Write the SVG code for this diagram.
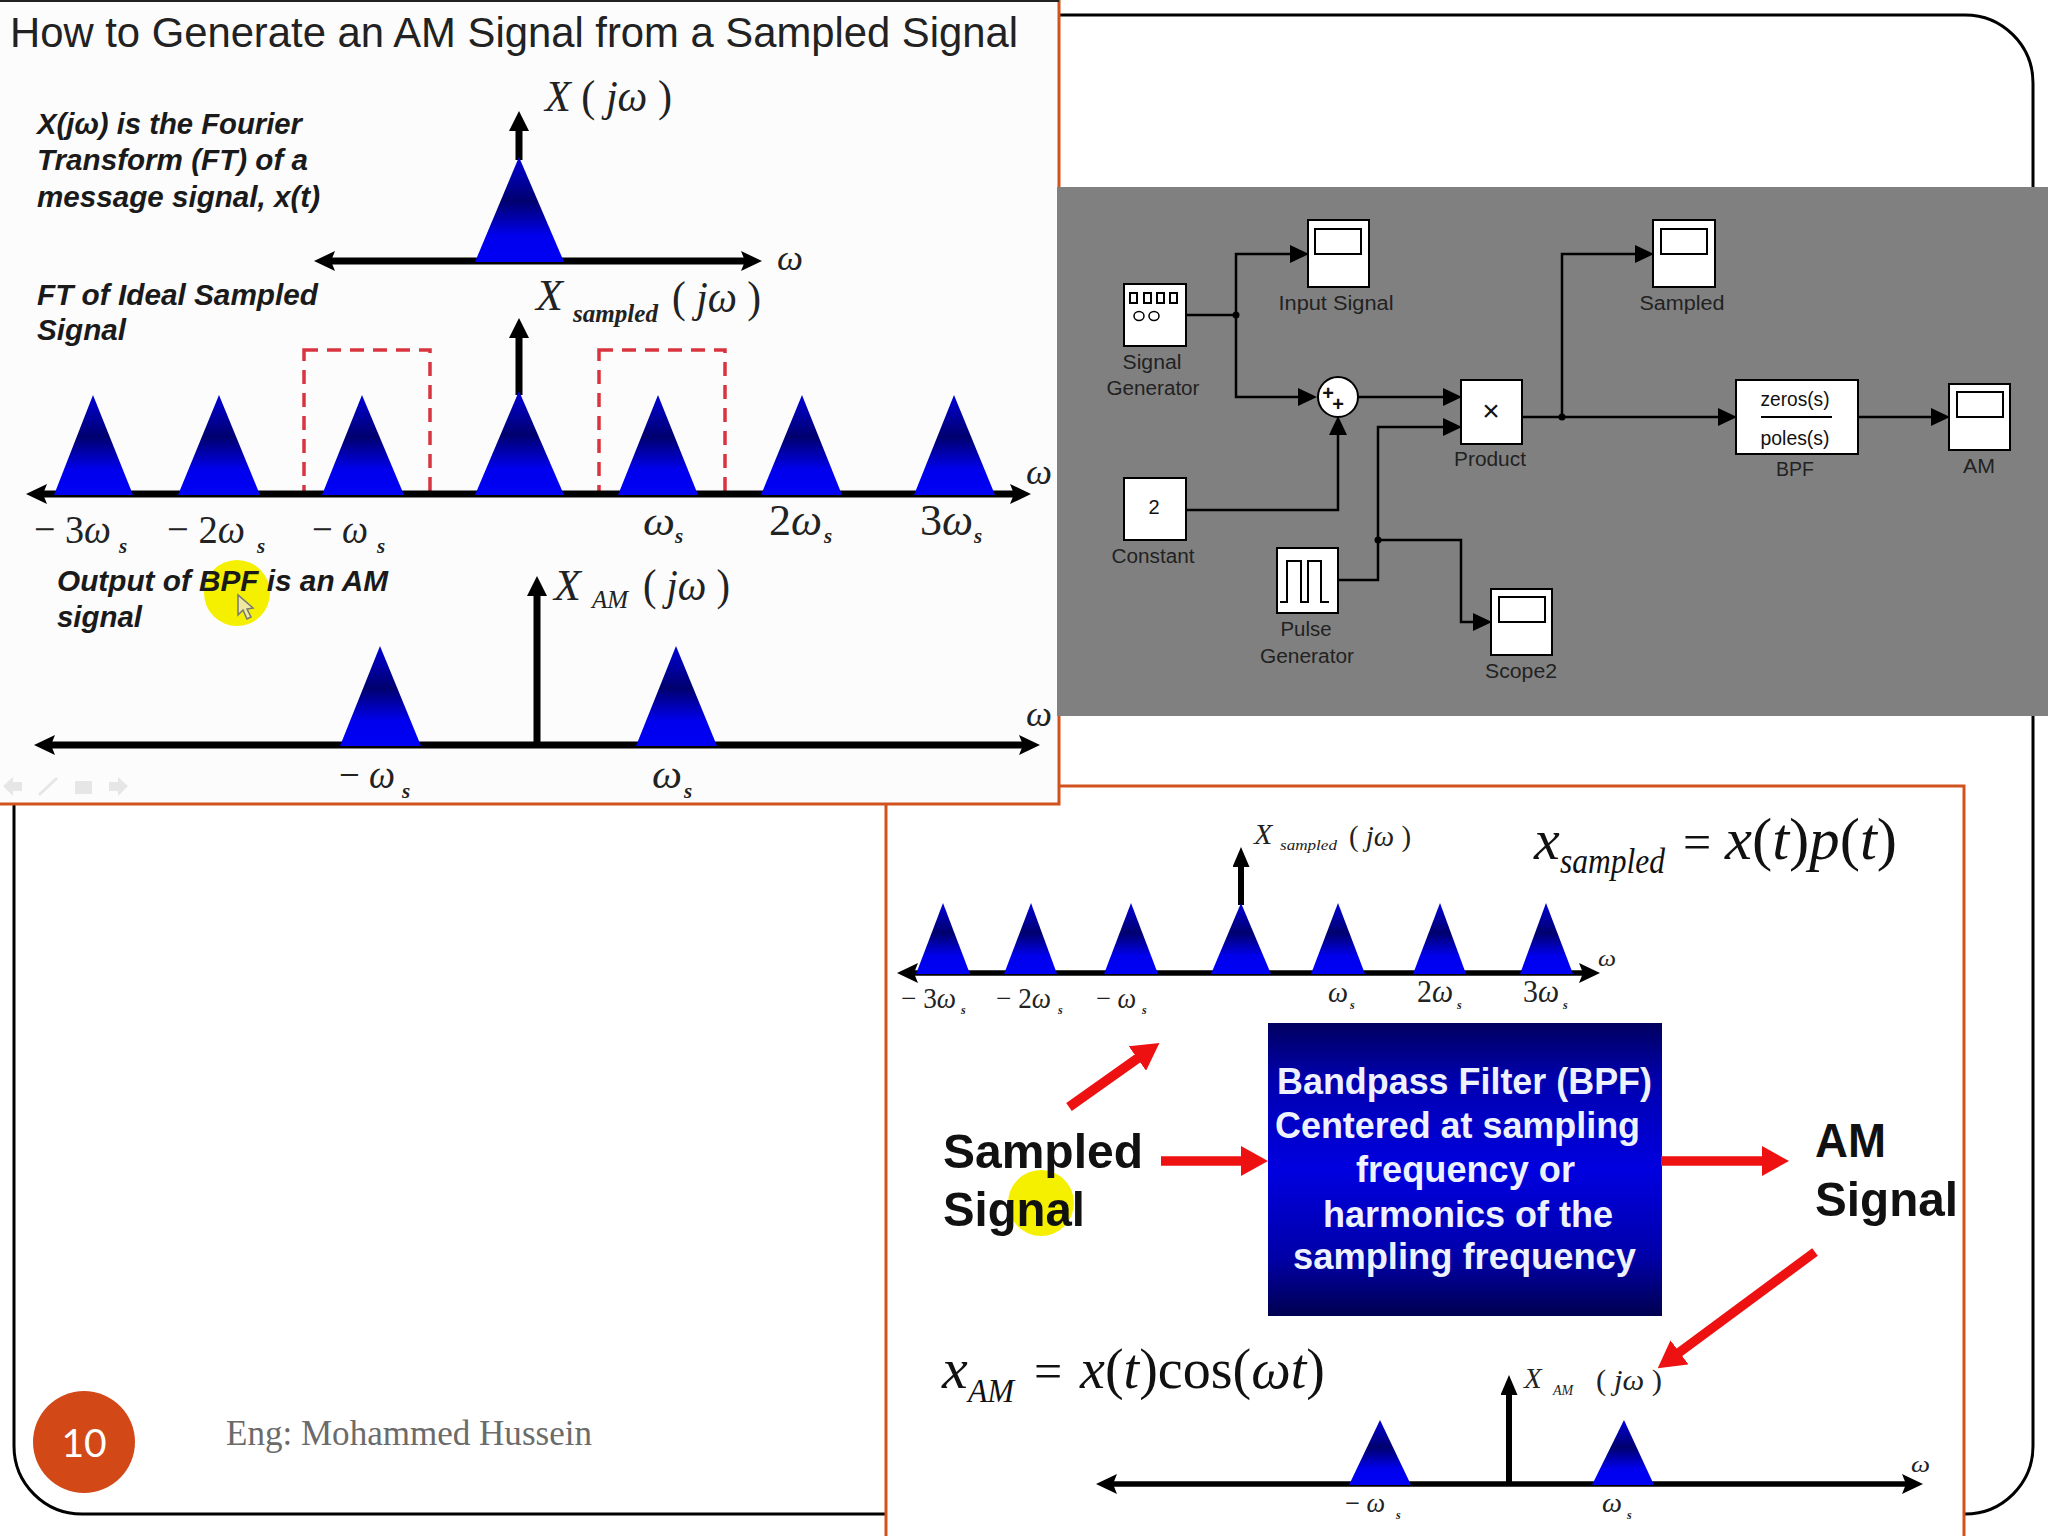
<svg xmlns="http://www.w3.org/2000/svg" width="2048" height="1536" viewBox="0 0 2048 1536">
<style>
text{font-family:"Liberation Sans",Arial,sans-serif;fill:#111}
.m{font-family:"Liberation Serif","Times New Roman",serif;fill:#222}
.i{font-style:italic}
.s{font-family:"Liberation Serif","Times New Roman",serif;font-style:italic;font-weight:bold;fill:#222}
.bi{font-weight:bold;font-style:italic;font-size:30px;fill:#1a1a1a}
.ax{stroke:#000;stroke-width:7;fill:none;marker-start:url(#ah);marker-end:url(#ah)}
.ax3{stroke:#000;stroke-width:5.500;fill:none;marker-start:url(#ah);marker-end:url(#ah)}
.v{stroke:#000;stroke-width:7;fill:none;marker-end:url(#av)}
.v3{stroke:#000;stroke-width:6;fill:none;marker-end:url(#avs)}
.tri{fill:url(#tg)}
.dash{fill:none;stroke:#d8343f;stroke-width:3.5;stroke-dasharray:14 9}
.red{stroke:#ee1111;stroke-width:9.500;fill:none;marker-end:url(#ar)}
.blk{fill:#fff;stroke:#000;stroke-width:2}
.scr{fill:none;stroke:#000;stroke-width:2}
.w{fill:none;stroke:#000;stroke-width:2.5}
.wa{fill:none;stroke:#000;stroke-width:2.5;marker-end:url(#as)}
.lb{font-size:20px;fill:#222;text-anchor:middle}
.bw{font-weight:bold;font-size:36px;fill:#eef2ff}
.bk{font-weight:bold;font-size:49px;fill:#111}
.tb{fill:#e6e6e6}
</style>
<defs>
<linearGradient id="tg" x1="0" y1="0" x2="0" y2="1"><stop offset="0" stop-color="#0000d8"/><stop offset=".42" stop-color="#00006e"/><stop offset=".75" stop-color="#0000ee"/><stop offset="1" stop-color="#0000f4"/></linearGradient>
<linearGradient id="bg" x1="0" y1="0" x2="0" y2="1"><stop offset="0" stop-color="#000060"/><stop offset=".2" stop-color="#0000b0"/><stop offset=".5" stop-color="#0000e0"/><stop offset=".8" stop-color="#0000a8"/><stop offset="1" stop-color="#000050"/></linearGradient>
<marker id="ah" markerUnits="userSpaceOnUse" markerWidth="22" markerHeight="20" viewBox="0 0 22 20" refX="10" refY="10" orient="auto-start-reverse"><path d="M0 0L21 10L0 20L4 10Z" fill="#000"/></marker>
<marker id="av" markerUnits="userSpaceOnUse" markerWidth="20" markerHeight="20" viewBox="0 0 20 20" refX="10" refY="10" orient="auto"><path d="M0 0L20 10L0 20Z" fill="#000"/></marker>
<marker id="avs" markerUnits="userSpaceOnUse" markerWidth="20" markerHeight="17" viewBox="0 0 20 17" refX="10" refY="8.5" orient="auto"><path d="M0 0L20 8.500L0 17Z" fill="#000"/></marker>
<marker id="ar" markerUnits="userSpaceOnUse" markerWidth="27" markerHeight="30" viewBox="0 0 27 30" refX="13" refY="15" orient="auto"><path d="M0 0L27 15L0 30Z" fill="#ee1111"/></marker>
<marker id="as" markerUnits="userSpaceOnUse" markerWidth="19" markerHeight="18" viewBox="0 0 19 18" refX="9" refY="9" orient="auto"><path d="M0 0L19 9L0 18Z" fill="#000"/></marker>
</defs>
<rect width="2048" height="1536" fill="#fff"/>
<g id="slide-frame">
<rect x="14" y="15" width="2019" height="1499" rx="68" ry="68" fill="#fff" stroke="#000" stroke-width="3"/>
</g>
<g id="page-number">
<circle cx="84" cy="1442" r="51" fill="#d34817"/>
<text x="84" y="1457" text-anchor="middle" style="font-family:Lato,sans-serif;fill:#fff;font-size:39px">10</text>
</g>
<g id="footer"><text x="226" y="1445" class="m" font-size="35" textLength="366" lengthAdjust="spacingAndGlyphs" style="fill:#6b6b6b">Eng: Mohammed Hussein</text></g>

<g id="panel-bpf">
<rect x="886" y="786" width="1078" height="760" fill="#fff" stroke="#d2521f" stroke-width="3"/>
<g id="sampled-spectrum">
<line class="v3" x1="1241" y1="905" x2="1241" y2="857"/>
<line class="ax3" x1="908" y1="973" x2="1589" y2="973"/>
<polygon class="tri" points="916,974 943,903 970,974"/>
<polygon class="tri" points="1004,974 1031,903 1057,974"/>
<polygon class="tri" points="1104,974 1131,903 1158,974"/>
<polygon class="tri" points="1211,974 1241,903 1271,974"/>
<polygon class="tri" points="1311,974 1338,903 1365,974"/>
<polygon class="tri" points="1413,974 1440,903 1466,974"/>
<polygon class="tri" points="1520,974 1546,903 1573,974"/>
<text class="m i" x="1254" y="844" font-size="30">X</text>
<text class="m i" x="1280" y="850" font-size="14" textLength="57" lengthAdjust="spacingAndGlyphs">sampled</text>
<text class="m" x="1349" y="846" font-size="29" textLength="62" lengthAdjust="spacingAndGlyphs">( <tspan class="i">jω</tspan> )</text>
<text class="m i" x="1598" y="966" font-size="24" textLength="18" lengthAdjust="spacingAndGlyphs">ω</text>
<text class="m" x="901" y="1008" font-size="29" textLength="55" lengthAdjust="spacingAndGlyphs">− 3<tspan class="i">ω</tspan></text><text class="s" x="961" y="1014" font-size="12">s</text>
<text class="m" x="996" y="1008" font-size="29" textLength="55" lengthAdjust="spacingAndGlyphs">− 2<tspan class="i">ω</tspan></text><text class="s" x="1058" y="1014" font-size="12">s</text>
<text class="m" x="1096" y="1008" font-size="29" textLength="40" lengthAdjust="spacingAndGlyphs">− <tspan class="i">ω</tspan></text><text class="s" x="1142" y="1014" font-size="12">s</text>
<text class="m i" x="1328" y="1002" font-size="29" textLength="20" lengthAdjust="spacingAndGlyphs">ω</text><text class="s" x="1350" y="1009" font-size="12">s</text>
<text class="m" x="1417" y="1002" font-size="31" textLength="36" lengthAdjust="spacingAndGlyphs">2<tspan class="i">ω</tspan></text><text class="s" x="1457" y="1009" font-size="12">s</text>
<text class="m" x="1523" y="1002" font-size="31" textLength="36" lengthAdjust="spacingAndGlyphs">3<tspan class="i">ω</tspan></text><text class="s" x="1563" y="1009" font-size="12">s</text>
</g>
<g id="sampled-formula">
<text class="m i" x="1534" y="859" font-size="58" style="fill:#111">x</text>
<text class="m i" x="1560" y="873" font-size="35" textLength="105" lengthAdjust="spacingAndGlyphs" style="fill:#111">sampled</text>
<text class="m" x="1683" y="859" font-size="50" style="fill:#111">=</text>
<text class="m" x="1725" y="859" font-size="60" textLength="172" lengthAdjust="spacingAndGlyphs" style="fill:#111"><tspan class="i">x</tspan>(<tspan class="i">t</tspan>)<tspan class="i">p</tspan>(<tspan class="i">t</tspan>)</text>
</g>
<g id="bpf-box">
<rect x="1268" y="1023" width="394" height="293" fill="url(#bg)"/>
<text class="bw" x="1277" y="1094" textLength="375" lengthAdjust="spacingAndGlyphs">Bandpass Filter (BPF)</text>
<text class="bw" x="1275" y="1138" textLength="365" lengthAdjust="spacingAndGlyphs">Centered at sampling</text>
<text class="bw" x="1356" y="1182" textLength="219" lengthAdjust="spacingAndGlyphs">frequency or</text>
<text class="bw" x="1323" y="1227" textLength="290" lengthAdjust="spacingAndGlyphs">harmonics of the</text>
<text class="bw" x="1293" y="1269" textLength="343" lengthAdjust="spacingAndGlyphs">sampling frequency</text>
</g>
<g id="sampled-signal-label">
<circle cx="1041" cy="1203" r="33" fill="#f4f000"/>
<text class="bk" x="943" y="1168" textLength="200" lengthAdjust="spacingAndGlyphs">Sampled</text>
<text class="bk" x="943" y="1226" textLength="142" lengthAdjust="spacingAndGlyphs">Signal</text>
</g>
<g id="am-signal-label">
<text class="bk" x="1815" y="1157" textLength="71" lengthAdjust="spacingAndGlyphs">AM</text>
<text class="bk" x="1815" y="1216" textLength="143" lengthAdjust="spacingAndGlyphs">Signal</text>
</g>
<g id="am-formula">
<text class="m i" x="942" y="1388" font-size="58" style="fill:#111">x</text>
<text class="m i" x="968" y="1402" font-size="34" textLength="46" lengthAdjust="spacingAndGlyphs" style="fill:#111">AM</text>
<text class="m" x="1034" y="1388" font-size="50" style="fill:#111">=</text>
<text class="m" x="1080" y="1388" font-size="58" textLength="245" lengthAdjust="spacingAndGlyphs" style="fill:#111"><tspan class="i">x</tspan>(<tspan class="i">t</tspan>)cos(<tspan class="i">ωt</tspan>)</text>
</g>
<g id="am-spectrum">
<line class="v3" x1="1509" y1="1484" x2="1509" y2="1385"/>
<line class="ax3" x1="1107" y1="1484" x2="1912" y2="1484"/>
<polygon class="tri" points="1349,1485 1380,1420 1411,1485"/>
<polygon class="tri" points="1592,1485 1624,1420 1654,1485"/>
<text class="m i" x="1524" y="1388" font-size="29">X</text>
<text class="m i" x="1553" y="1395" font-size="14">AM</text>
<text class="m" x="1596" y="1390" font-size="29" textLength="66" lengthAdjust="spacingAndGlyphs">( <tspan class="i">jω</tspan> )</text>
<text class="m i" x="1911" y="1472" font-size="24" textLength="19" lengthAdjust="spacingAndGlyphs">ω</text>
<text class="m" x="1345" y="1512" font-size="27" textLength="40" lengthAdjust="spacingAndGlyphs">− <tspan class="i">ω</tspan></text><text class="s" x="1396" y="1519" font-size="12">s</text>
<text class="m i" x="1602" y="1512" font-size="27" textLength="20" lengthAdjust="spacingAndGlyphs">ω</text><text class="s" x="1627" y="1519" font-size="12">s</text>
</g>
<g id="red-arrows">
<line class="red" x1="1069" y1="1107" x2="1148" y2="1051"/>
<line class="red" x1="1161" y1="1161" x2="1254" y2="1161"/>
<line class="red" x1="1661" y1="1161" x2="1775" y2="1161"/>
<line class="red" x1="1815" y1="1252" x2="1669" y2="1360"/>
</g>
</g>

<g id="panel-spectra">
<rect x="-3" y="0" width="1062" height="804" fill="#fcfcfc" stroke="#d2521f" stroke-width="3"/>
<line x1="0" y1="1" x2="1059" y2="1" stroke="#222" stroke-width="2"/>
<text x="10" y="47" font-size="42" textLength="1008" lengthAdjust="spacingAndGlyphs" style="fill:#222">How to Generate an AM Signal from a Sampled Signal</text>
<g id="message-spectrum">
<line class="v" x1="519" y1="160" x2="519" y2="121"/>
<line class="ax" x1="325" y1="261" x2="751" y2="261"/>
<polygon class="tri" points="475,262 519,157 564,262"/>
<text class="m" x="545" y="111" font-size="44" textLength="127" lengthAdjust="spacingAndGlyphs"><tspan class="i">X</tspan> ( <tspan class="i">jω</tspan> )</text>
<text class="m i" x="777" y="270" font-size="36" textLength="26" lengthAdjust="spacingAndGlyphs">ω</text>
<text class="bi" x="37" y="134" textLength="265" lengthAdjust="spacingAndGlyphs">X(jω) is the Fourier</text>
<text class="bi" x="37" y="170" textLength="271" lengthAdjust="spacingAndGlyphs">Transform (FT) of a</text>
<text class="bi" x="37" y="207" textLength="283" lengthAdjust="spacingAndGlyphs">message signal, x(t)</text>
</g>
<g id="ideal-sampled-spectrum">
<rect class="dash" x="304" y="350" width="126" height="144"/>
<rect class="dash" x="599" y="350" width="126" height="144"/>
<line class="v" x1="519" y1="395" x2="519" y2="328"/>
<line class="ax" x1="37" y1="494" x2="1020" y2="494"/>
<polygon class="tri" points="54,495 93,395 133,495"/>
<polygon class="tri" points="178,495 219,395 260,495"/>
<polygon class="tri" points="322,495 362,395 404,495"/>
<polygon class="tri" points="475,495 519,391 564,495"/>
<polygon class="tri" points="618,495 658,395 698,495"/>
<polygon class="tri" points="761,495 802,395 842,495"/>
<polygon class="tri" points="914,495 954,395 995,495"/>
<text class="m i" x="536" y="310" font-size="44">X</text>
<text class="m i" x="573" y="322" font-size="25" font-weight="bold" textLength="85" lengthAdjust="spacingAndGlyphs">sampled</text>
<text class="m" x="672" y="312" font-size="44" textLength="89" lengthAdjust="spacingAndGlyphs">( <tspan class="i">jω</tspan> )</text>
<text class="m i" x="1026" y="484" font-size="36" textLength="26" lengthAdjust="spacingAndGlyphs">ω</text>
<text class="bi" x="37" y="305" textLength="281" lengthAdjust="spacingAndGlyphs">FT of Ideal Sampled</text>
<text class="bi" x="37" y="340" textLength="89" lengthAdjust="spacingAndGlyphs">Signal</text>
<text class="m" x="34" y="543" font-size="41" textLength="77" lengthAdjust="spacingAndGlyphs">− 3<tspan class="i">ω</tspan></text><text class="s" x="119" y="553" font-size="21">s</text>
<text class="m" x="167" y="543" font-size="41" textLength="78" lengthAdjust="spacingAndGlyphs">− 2<tspan class="i">ω</tspan></text><text class="s" x="257" y="553" font-size="21">s</text>
<text class="m" x="312" y="543" font-size="41" textLength="56" lengthAdjust="spacingAndGlyphs">− <tspan class="i">ω</tspan></text><text class="s" x="377" y="553" font-size="21">s</text>
<text class="m i" x="643" y="535" font-size="41" textLength="32" lengthAdjust="spacingAndGlyphs">ω</text><text class="s" x="675" y="543" font-size="21">s</text>
<text class="m" x="769" y="535" font-size="45" textLength="53" lengthAdjust="spacingAndGlyphs">2<tspan class="i">ω</tspan></text><text class="s" x="824" y="543" font-size="21">s</text>
<text class="m" x="920" y="535" font-size="45" textLength="53" lengthAdjust="spacingAndGlyphs">3<tspan class="i">ω</tspan></text><text class="s" x="974" y="543" font-size="21">s</text>
</g>
<g id="am-output-spectrum">
<circle cx="237" cy="593" r="33" fill="#f4f000"/>
<text class="bi" x="57" y="591" textLength="331" lengthAdjust="spacingAndGlyphs">Output of BPF is an AM</text>
<text class="bi" x="57" y="627" textLength="85" lengthAdjust="spacingAndGlyphs">signal</text>
<path d="M238 595L238 615L243 610L247 619L251 617L247 609L253 608Z" fill="#eee8a0" stroke="#777" stroke-width="1.500"/>
<line class="v" x1="537" y1="745" x2="537" y2="586"/>
<line class="ax" x1="45" y1="745" x2="1029" y2="745"/>
<polygon class="tri" points="340,746 380,646 421,746"/>
<polygon class="tri" points="636,746 676,646 717,746"/>
<text class="m i" x="554" y="600" font-size="44">X</text>
<text class="m i" x="592" y="608" font-size="25" textLength="36" lengthAdjust="spacingAndGlyphs">AM</text>
<text class="m" x="643" y="600" font-size="44" textLength="87" lengthAdjust="spacingAndGlyphs">( <tspan class="i">jω</tspan> )</text>
<text class="m i" x="1026" y="726" font-size="36" textLength="26" lengthAdjust="spacingAndGlyphs">ω</text>
<text class="m" x="339" y="788" font-size="39" textLength="56" lengthAdjust="spacingAndGlyphs">− <tspan class="i">ω</tspan></text><text class="s" x="402" y="798" font-size="21">s</text>
<text class="m i" x="652" y="788" font-size="39" textLength="30" lengthAdjust="spacingAndGlyphs">ω</text><text class="s" x="684" y="798" font-size="21">s</text>
</g>
<g id="toolbar">
<path class="tb" d="M3 786L13 777V782H22V791H13V796Z"/>
<path d="M39 795L57 778" stroke="#e6e6e6" stroke-width="3"/>
<rect class="tb" x="75" y="781" width="17" height="13"/>
<path class="tb" d="M128 786L118 777V782H109V791H118V796Z"/>
</g>
</g>

<g id="simulink">
<rect x="1057" y="187" width="991" height="529" fill="#808080"/>
<g id="connectors">
<path class="w" d="M1186 315H1236"/>
<path class="wa" d="M1236 315V254H1299"/>
<path class="wa" d="M1236 315V397H1307"/>
<path class="wa" d="M1358 397H1452"/>
<path class="wa" d="M1186 510H1338V426"/>
<path class="w" d="M1338 580H1378V540"/>
<path class="wa" d="M1378 540V427H1452"/>
<path class="wa" d="M1378 540H1461V622H1482"/>
<path class="w" d="M1522 417H1562"/>
<path class="wa" d="M1562 417V254H1644"/>
<path class="wa" d="M1562 417H1727"/>
<path class="wa" d="M1858 417H1940"/>
<circle cx="1236" cy="315" r="3.500"/>
<circle cx="1562" cy="417" r="3.500"/>
<circle cx="1378" cy="540" r="3.500"/>
</g>
<g id="signal-generator">
<rect class="blk" x="1124" y="284" width="62" height="62"/>
<rect class="scr" x="1130" y="293" width="7" height="10"/><rect class="scr" x="1144" y="293" width="7" height="10"/><rect class="scr" x="1157" y="293" width="7" height="10"/><rect class="scr" x="1170" y="293" width="7" height="10"/>
<ellipse class="scr" cx="1139" cy="316" rx="5" ry="4.500" style="stroke-width:1.500"/><ellipse class="scr" cx="1154" cy="316" rx="5" ry="4.500" style="stroke-width:1.500"/>
<text class="lb" x="1152" y="369" textLength="59" lengthAdjust="spacingAndGlyphs">Signal</text>
<text class="lb" x="1153" y="395" textLength="93" lengthAdjust="spacingAndGlyphs">Generator</text>
</g>
<g id="input-signal">
<rect class="blk" x="1308" y="220" width="61" height="67"/><rect class="scr" x="1315" y="229" width="46" height="25"/>
<text class="lb" x="1336" y="310" textLength="115" lengthAdjust="spacingAndGlyphs">Input Signal</text>
</g>
<g id="sampled">
<rect class="blk" x="1653" y="220" width="62" height="67"/><rect class="scr" x="1661" y="229" width="46" height="25"/>
<text class="lb" x="1682" y="310" textLength="85" lengthAdjust="spacingAndGlyphs">Sampled</text>
</g>
<g id="sum">
<circle cx="1338" cy="397" r="20" fill="#fff" stroke="#000" stroke-width="2"/>
<text x="1328" y="400" font-size="20" font-weight="bold" text-anchor="middle">+</text><text x="1338" y="411" font-size="20" font-weight="bold" text-anchor="middle">+</text>
</g>
<g id="product">
<rect class="blk" x="1461" y="380" width="61" height="64"/>
<text x="1491" y="421" font-size="30" text-anchor="middle">×</text>
<text class="lb" x="1490" y="466" textLength="72" lengthAdjust="spacingAndGlyphs">Product</text>
</g>
<g id="bpf">
<rect class="blk" x="1736" y="380" width="122" height="74"/>
<text x="1795" y="406" font-size="20" text-anchor="middle" textLength="69" lengthAdjust="spacingAndGlyphs">zeros(s)</text>
<line x1="1761" y1="417" x2="1832" y2="417" stroke="#000" stroke-width="2"/>
<text x="1795" y="445" font-size="20" text-anchor="middle" textLength="69" lengthAdjust="spacingAndGlyphs">poles(s)</text>
<text class="lb" x="1795" y="476" textLength="38" lengthAdjust="spacingAndGlyphs">BPF</text>
</g>
<g id="am">
<rect class="blk" x="1949" y="384" width="61" height="66"/><rect class="scr" x="1957" y="392" width="46" height="25"/>
<text class="lb" x="1979" y="473" textLength="32" lengthAdjust="spacingAndGlyphs">AM</text>
</g>
<g id="constant">
<rect class="blk" x="1124" y="478" width="62" height="62"/>
<text x="1154" y="514" font-size="20" text-anchor="middle">2</text>
<text class="lb" x="1153" y="563" textLength="83" lengthAdjust="spacingAndGlyphs">Constant</text>
</g>
<g id="pulse-generator">
<rect class="blk" x="1277" y="548" width="61" height="65"/>
<path class="scr" d="M1280 602H1287V561H1301V602H1308V561H1321V602H1329"/>
<text class="lb" x="1306" y="636" textLength="51" lengthAdjust="spacingAndGlyphs">Pulse</text>
<text class="lb" x="1307" y="663" textLength="94" lengthAdjust="spacingAndGlyphs">Generator</text>
</g>
<g id="scope2">
<rect class="blk" x="1491" y="589" width="61" height="66"/><rect class="scr" x="1499" y="597" width="46" height="25"/>
<text class="lb" x="1521" y="678" textLength="72" lengthAdjust="spacingAndGlyphs">Scope2</text>
</g>
</g>
</svg>
